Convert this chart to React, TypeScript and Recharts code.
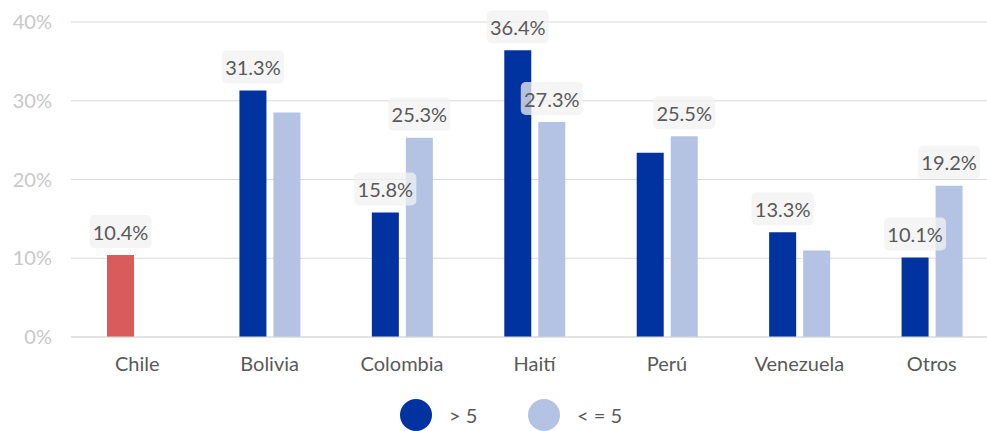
import React from 'react';
import { BarChart, Bar, XAxis, YAxis, CartesianGrid, Cell, LabelList, Legend } from 'recharts';

const categories = ['Chile', 'Bolivia', 'Colombia', 'Haití', 'Perú', 'Venezuela', 'Otros'];
const gt5Values = [10.4, 31.3, 15.8, 36.4, 23.4, 13.3, 10.1];
const le5Values = [null, 28.5, 25.3, 27.3, 25.5, 11.0, 19.2];
const gt5ShowLabel = [true, true, true, true, false, true, true];
const le5ShowLabel = [false, false, true, true, true, false, true];
const yTicks = [0, 10, 20, 30, 40];
const seriesNames = ['> 5', '< = 5'];

const BLUE = '#0033A0';
const LIGHT = '#B4C3E3';
const RED = '#D95B5B';
const FONT = 'Lato, "Noto Sans", sans-serif';

const data = categories.map((c, i) => ({
  name: c,
  gt5: gt5Values[i],
  le5: le5Values[i],
  gt5Label: gt5ShowLabel[i] ? gt5Values[i] : null,
  le5Label: le5ShowLabel[i] ? le5Values[i] : null,
}));

const BoxLabel = (props: any) => {
  const { x, y, width, value } = props;
  if (value === null || value === undefined) return null;
  const cx = x + width / 2;
  const boxW = 62;
  const boxH = 33;
  const bottom = y - 7;
  return (
    <g>
      <rect x={cx - boxW / 2} y={bottom - boxH} width={boxW} height={boxH} rx={5} ry={5} fill="#F2F2F2" fillOpacity={0.75} />
      <text x={cx} y={bottom - boxH / 2} textAnchor="middle" dominantBaseline="central" fill="#595959" fontSize={20} fontFamily={FONT}>
        {`${Number(value).toFixed(1)}%`}
      </text>
    </g>
  );
};

const LegendContent = () => (
  <div style={{ height: 34, display: 'flex', alignItems: 'flex-start', paddingLeft: 400, fontFamily: FONT, fontSize: 20, color: '#595959' }}>
    <div style={{ display: 'flex', alignItems: 'center', marginTop: 2 }}>
      <span style={{ width: 32, height: 32, borderRadius: 16, background: BLUE, display: 'inline-block' }} />
      <span style={{ marginLeft: 17, width: 79 }}>{seriesNames[0]}</span>
      <span style={{ width: 32, height: 32, borderRadius: 16, background: LIGHT, display: 'inline-block' }} />
      <span style={{ marginLeft: 17 }}>{seriesNames[1]}</span>
    </div>
  </div>
);

export default function App() {
  return (
    <div style={{ position: 'absolute', left: 0, top: 0, width: 987, height: 431, overflow: 'hidden', background: '#fff' }}>
      <BarChart
        width={1000}
        height={431}
        data={data}
        margin={{ top: 22, right: 2, left: 0, bottom: 0 }}
        barSize={27}
        barGap={7}
      >
        <CartesianGrid vertical={false} stroke="#D9D9D9" />
        <XAxis
          dataKey="name"
          height={60}
          tickSize={0}
          tickMargin={20}
          axisLine={{ stroke: '#D9D9D9' }}
          tick={{ fill: '#595959', fontSize: 20, fontFamily: FONT }}
        />
        <YAxis
          width={71}
          domain={[0, 40]}
          ticks={yTicks}
          tickFormatter={(v: number) => `${v}%`}
          axisLine={false}
          tickSize={0}
          tickMargin={19}
          tick={{ fill: '#C8C8C8', fontSize: 20, fontFamily: FONT }}
        />
        <Legend verticalAlign="bottom" content={LegendContent} />
        <Bar dataKey="gt5" name={seriesNames[0]} fill={BLUE} isAnimationActive={false}>
          {data.map((d, i) => (
            <Cell key={i} fill={i === 0 ? RED : BLUE} />
          ))}
          <LabelList dataKey="gt5Label" content={BoxLabel} />
        </Bar>
        <Bar dataKey="le5" name={seriesNames[1]} fill={LIGHT} isAnimationActive={false}>
          <LabelList dataKey="le5Label" content={BoxLabel} />
        </Bar>
      </BarChart>
    </div>
  );
}
